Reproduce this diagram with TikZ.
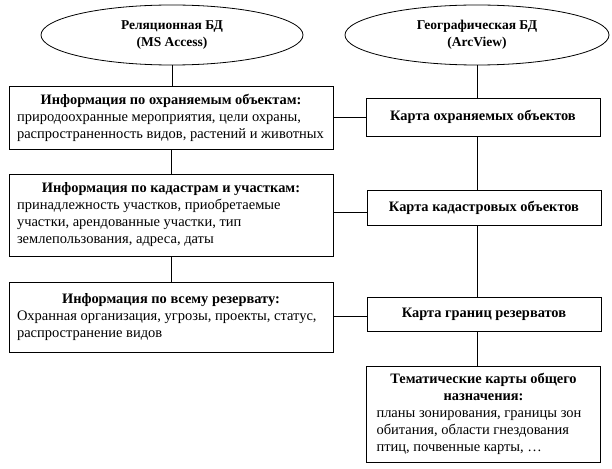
\documentclass[tikz,border=0pt]{standalone}
\usepackage{fontspec}
\setmainfont{Liberation Serif}
\usetikzlibrary{shapes.geometric}
\newcommand{\bodyfont}{\fontsize{14.5}{17}\selectfont}
\newcommand{\headfont}{\fontsize{14.4}{17}\selectfont\bfseries}
\begin{document}
\begin{tikzpicture}[x=1pt,y=-1pt,
  every node/.style={font=\bodyfont},
  dbell/.style={draw,ellipse,minimum width=262pt,minimum height=60pt,inner sep=0pt,align=center,font=\fontsize{13.5}{17}\selectfont\bfseries},
  lbox/.style={draw,rectangle,minimum width=324pt,inner sep=0pt,align=center},
  rbox/.style={draw,rectangle,minimum width=234pt,inner sep=0pt,align=center},
  conn/.style={draw,line width=0.8pt},
  line width=0.8pt]
\useasboundingbox (0,0) rectangle (612,468);
\node[dbell] (le) at (172,35) {Реляционная БД\\(MS Access)};
\node[dbell,minimum width=264pt] (re) at (477,35) {Географическая БД\\(ArcView)};

\node[lbox,minimum height=63pt] (lb1) at (171,117.5) {\parbox{308pt}{\centering{\headfont Информация по охраняемым объектам:}\\
\raggedright\mbox{природоохранные мероприятия, цели охраны,}\\\mbox{распространенность видов, растений и животных}}};
\node[lbox,minimum height=82pt] (lb2) at (171,215) {\parbox{308pt}{\centering{\headfont Информация по кадастрам и участкам:}\\
\raggedright\mbox{принадлежность участков, приобретаемые}\\\mbox{участки, арендованные участки, тип}\\\mbox{землепользования, адреса, даты}}};
\node[lbox,minimum height=70pt] (lb3) at (171,317) {\parbox{308pt}{\centering{\headfont Информация по всему резервату:}\\
\raggedright\mbox{Охранная организация, угрозы, проекты, статус,}\\\mbox{распространение видов}}\rule{0pt}{6pt}};

\node[rbox,minimum height=38pt,font=\headfont] (rb1) at (483,117) {Карта охраняемых объектов};
\node[rbox,minimum height=35pt,font=\headfont] (rb2) at (484,207.5) {Карта кадастровых объектов};
\node[rbox,minimum height=34pt,font=\headfont] (rb3) at (484,314) {Карта границ резерватов};
\node[rbox,minimum height=96pt] (rb4) at (483.5,414) {\parbox{214pt}{\centering{\headfont Тематические карты общего}\\{\headfont назначения:}\\
\raggedright\mbox{планы зонирования, границы зон}\\\mbox{обитания, области гнездования}\\\mbox{птиц, почвенные карты, \ldots}}};

\draw[conn] (le.south) -- (le.south |- lb1.north);
\draw[conn] (lb1.south) -- (lb2.north);
\draw[conn] (lb2.south) -- (lb3.north);
\draw[conn] (re.south) -- (re.south |- rb1.north);
\draw[conn] (rb1.south -| re.south) -- (re.south |- rb2.north);
\draw[conn] (rb2.south -| re.south) -- (re.south |- rb3.north);
\draw[conn] (rb3.south -| re.south) -- (re.south |- rb4.north);
\draw[conn] (rb1.west -| lb1.east) -- (rb1.west);
\draw[conn] (lb2.east |- 0,212) -- (rb2.west |- 0,212);
\draw[conn] (lb3.east |- 0,316) -- (rb3.west |- 0,316);
\end{tikzpicture}
\end{document}
